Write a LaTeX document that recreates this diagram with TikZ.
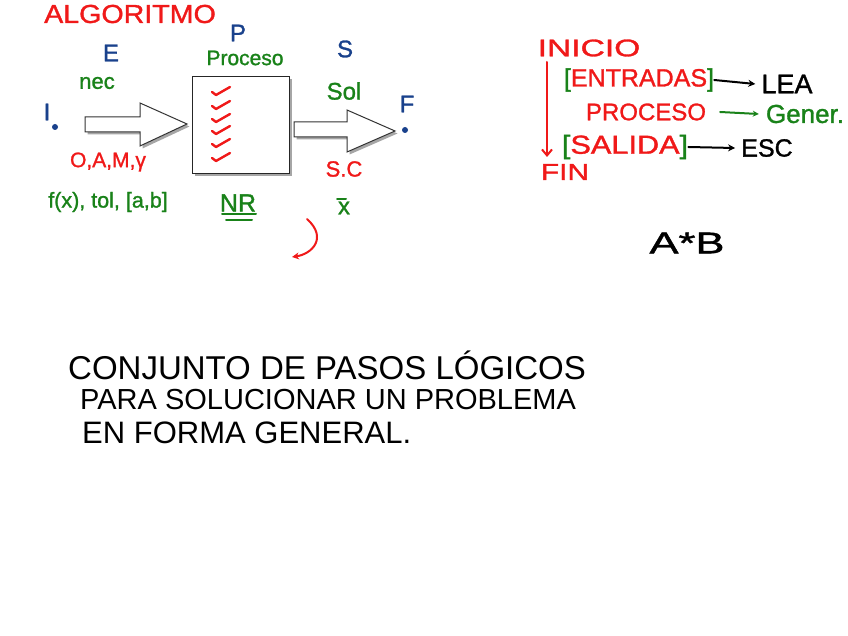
\documentclass[tikz,border=0pt]{standalone}
\usepackage{fontspec}
\setmainfont{Liberation Sans}
\newfontfamily\hwf{Liberation Sans}[FakeBold=1.2]
\usetikzlibrary{shadows,arrows.meta}
\definecolor{hred}{RGB}{240,25,25}
\definecolor{hgreen}{RGB}{25,130,25}
\definecolor{hblue}{RGB}{25,65,140}
\newcommand{\hs}[2]{\scalebox{#1}[1]{#2}}
\newcommand{\fs}[1]{\hwf\fontsize{#1}{#1}\selectfont}
\begin{document}
\begin{tikzpicture}[x=1pt,y=-1pt,
  txt/.style={inner sep=0pt, anchor=center},
  pen/.style={line width=2pt, line cap=round, line join=round},
  blockarrow/.style={draw=black!80, fill=white, line width=1pt,
     drop shadow={shadow xshift=2.5pt, shadow yshift=-2.5pt, fill=black!35, opacity=1}},
  dot/.style={circle, fill=hblue, inner sep=0pt, minimum size=6pt}
]
\useasboundingbox (0,0) rectangle (848,636);
\fill[white] (0,0) rectangle (848,636);

% title and letters
\node[txt, hred, font=\fs{26}] (alg) at (130,14) {\hs{1.1}{ALGORITMO}};
\node[txt, hblue, font=\fs{24}] (E) at (111,53) {E};
\node[txt, hblue, font=\fs{24}] (P) at (238,33) {P};
\node[txt, hblue, font=\fs{24}] (S) at (345,49) {S};
\node[txt, hgreen, font=\fs{21}] (proc) at (245,58) {Proceso};
\node[txt, hgreen, font=\fs{22}] (nec) at (97,83) {nec};
\node[txt, hgreen, font=\fs{24}] (sol) at (344,91) {Sol};
\node[txt, hblue, font=\fs{24}] (I) at (47,112) {I};
\node[dot] (dI) at (55,127) {};
\node[txt, hblue, font=\fs{24}] (F) at (407,104) {F};
\node[dot] (dF) at (405,130) {};

% left block arrow
\draw[blockarrow] (85,117) -- (140,117) -- (140,103) -- (187,124) -- (140,146) -- (140,132) -- (85,132) -- cycle;
% box
\node[draw=black!85, line width=1pt, fill=white, minimum width=97pt, minimum height=97pt,
      drop shadow={shadow xshift=2.5pt, shadow yshift=-2.5pt, fill=black!35, opacity=1}] (box) at (241,125) {};
% right block arrow
\draw[blockarrow] (294,122) -- (347,122) -- (347,110) -- (395,131) -- (347,152) -- (347,137) -- (294,137) -- cycle;

% checks in box
\foreach \yy in {92,106,119,131,144,158}{
  \draw[hred, pen, line width=2.4pt] (212,\yy) -- (216,\yy+3) -- (230,\yy-5);
}

\node[txt, hred, font=\fs{21}] (oam) at (108,162) {O,A,M,γ};
\node[txt, hred, font=\fs{22}] (sc) at (344,169) {S.C};
\node[txt, hgreen, font=\fs{21.5}] (fx) at (108,202) {f(x), tol, [a,b]};
\node[txt, hgreen, font=\fs{25}] (nr) at (238,203) {NR};
\draw[hgreen, pen] (222,214) -- (256,214);
\draw[hgreen, pen] (226,220) -- (252,220);
\node[txt, hgreen, font=\fs{24}] (xb) at (344,208) {x};
\draw[hgreen, pen] (337,199) -- (346,199);

\coordinate (ca) at (307,219);
\coordinate (cb) at (292,257);
\draw[hred, pen, -{Stealth[length=7pt,width=7pt]}] (ca) .. controls (328,238) and (312,254) .. (cb);

% right column
\node[txt, hred, font=\fs{24}] (inicio) at (589,48) {\hs{1.4}{INICIO}};
\node[txt, hred, font=\fs{23}] (fin) at (565,172) {\hs{1.3}{FIN}};
\coordinate (d1) at (547,62);
\coordinate (d2) at (547,157);
\draw[hred, pen, -{Straight Barb[length=6pt,width=10pt]}] (d1) -- (d2);

\node[txt, font=\fs{25}] (ent) at (639,80) {\textcolor{hgreen}{[}\textcolor{hred}{ENTRADAS}\textcolor{hgreen}{]}};
\node[txt, font=\fs{27}] (lea) at (787,84) {LEA};
\draw[pen, -{Stealth[length=7pt,width=7pt]}] (ent.east) -- ([xshift=-6pt]lea.west);

\node[txt, hred, font=\fs{24}] (pro) at (646,112) {PROCESO};
\node[txt, hgreen, font=\fs{26}] (gen) at (805,114) {Gener.};
\draw[hgreen, pen, -{Stealth[length=6pt,width=6pt]}] ([xshift=14pt]pro.east) -- ([xshift=-7pt]gen.west);

\node[txt, font=\fs{26}] (sal) at (625,147) {\hs{1.18}{\textcolor{hgreen}{[}\textcolor{hred}{SALIDA}\textcolor{hgreen}{]}}};
\node[txt, font=\fs{25}] (esc) at (767,148) {ESC};
\draw[pen, -{Stealth[length=7pt,width=7pt]}] (sal.east) -- ([xshift=-6pt]esc.west);

\node[txt, font=\fs{30}] (ab) at (687,243) {\hs{1.45}{A*B}};

% bottom text
\node[txt, anchor=west, font=\rmfamily\fontsize{33}{33}\selectfont] (l1) at (68,365) {CONJUNTO DE PASOS LÓGICOS};
\node[txt, anchor=west, font=\rmfamily\fontsize{29}{29}\selectfont] (l2) at (80,400) {PARA SOLUCIONAR UN PROBLEMA};
\node[txt, anchor=west, font=\rmfamily\fontsize{31}{31}\selectfont] (l3) at (82,433) {EN FORMA GENERAL.};
\end{tikzpicture}
\end{document}
